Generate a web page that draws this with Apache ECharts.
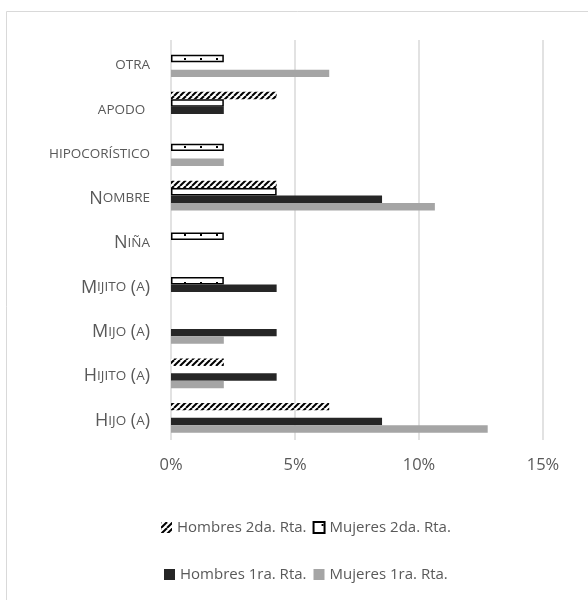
<!DOCTYPE html>
<html>
<head>
<meta charset="utf-8">
<script src="https://cdn.jsdelivr.net/npm/echarts@6/dist/echarts.min.js"></script>
<style>
  html, body { margin: 0; padding: 0; background: #fff; }
  #chart { width: 588px; height: 600px; }
</style>
</head>
<body>
<div id="chart"></div>
<script>
// Categories listed bottom to top (category axis on y runs upward)
const categories = ['Hijo (a)', 'Hijito (a)', 'Mijo (a)', 'Mijito (a)', 'Niña', 'Nombre', 'hipocorístico', 'apodo ', 'otra'];

// Percent of responses per category
const hombres2da = [6.38, 2.13, 0, 0, 0, 4.26, 0, 4.26, 0];
const mujeres2da = [0, 0, 0, 2.13, 2.13, 4.26, 2.13, 2.13, 2.13];
const hombres1ra = [8.51, 4.26, 4.26, 4.26, 0, 8.51, 0, 2.13, 0];
const mujeres1ra = [12.77, 2.13, 2.13, 0, 0, 10.64, 2.13, 0, 6.38];

const seriesNames = ['Hombres 2da. Rta.', 'Mujeres 2da. Rta.', 'Hombres 1ra. Rta.', 'Mujeres 1ra. Rta.'];
const xTicks = { min: 0, max: 15, interval: 5 };

const TEXT = '#595959';
const FONT = 'Open Sans';

// Diagonal hatch fill
function hatchPattern() {
  const c = document.createElement('canvas');
  c.width = 6; c.height = 6;
  const g = c.getContext('2d');
  g.fillStyle = '#fff';
  g.fillRect(0, 0, 6, 6);
  g.strokeStyle = '#000';
  g.lineWidth = 2;
  [0, 6, 12].forEach(function (k) {
    g.beginPath();
    g.moveTo(k - 6, 6);
    g.lineTo(k, 0);
    g.stroke();
  });
  return c;
}

// Sparse dot fill
function dotPattern() {
  const c = document.createElement('canvas');
  c.width = 16; c.height = 8;
  const g = c.getContext('2d');
  g.fillStyle = '#fff';
  g.fillRect(0, 0, 16, 8);
  g.fillStyle = '#000';
  g.fillRect(8, 2, 2, 2);
  return c;
}

// Small-caps rendering: lowercase letters become smaller capitals
function smallCaps(s) {
  let out = '';
  let cur = null, buf = '';
  for (const ch of s) {
    const isLower = ch !== ch.toUpperCase();
    const st = isLower ? 's' : 'b';
    const t = isLower ? ch.toUpperCase() : ch;
    if (st !== cur && buf) { out += '{' + cur + '|' + buf + '}'; buf = ''; }
    cur = st; buf += t;
  }
  if (buf) out += '{' + cur + '|' + buf + '}';
  return out;
}

function nz(arr) { return arr.map(function (v) { return v === 0 ? '-' : v; }); }

const chart = echarts.init(document.getElementById('chart'), null, { renderer: 'canvas' });

chart.setOption({
  animation: false,
  backgroundColor: '#fff',
  graphic: [{
    type: 'rect',
    shape: { x: 6.5, y: 11.5, width: 600, height: 600 },
    style: { fill: 'none', stroke: '#d9d9d9', lineWidth: 1 },
    silent: true
  }],
  grid: { left: 171, right: 45, top: 40, bottom: 160, containLabel: false },
  xAxis: {
    type: 'value',
    min: xTicks.min, max: xTicks.max, interval: xTicks.interval,
    axisLine: { show: false },
    axisTick: { show: false },
    splitLine: { lineStyle: { color: '#d9d9d9', width: 1.5 } },
    axisLabel: {
      formatter: '{value}%', color: TEXT, fontFamily: FONT, fontSize: 16.5, margin: 17
    }
  },
  yAxis: {
    type: 'category',
    data: categories,
    axisLine: { show: false },
    axisTick: { show: false },
    axisLabel: {
      margin: 21,
      padding: [6, 0, 0, 0],
      formatter: function (v) { return smallCaps(v); },
      rich: {
        b: { fontSize: 18, color: TEXT, fontFamily: FONT },
        s: { fontSize: 13.5, color: TEXT, fontFamily: FONT }
      }
    }
  },
  legend: [{
    data: [seriesNames[0], seriesNames[1]],
    left: 156, top: 515,
    icon: 'rect', itemWidth: 11, itemHeight: 11, itemGap: 6,
    textStyle: { color: TEXT, fontFamily: FONT, fontSize: 15 }
  }, {
    data: [seriesNames[2], seriesNames[3]],
    left: 159, top: 562,
    icon: 'rect', itemWidth: 11, itemHeight: 11, itemGap: 7,
    textStyle: { color: TEXT, fontFamily: FONT, fontSize: 15 }
  }],
  series: [{
    name: seriesNames[0], type: 'bar', data: nz(hombres2da),
    barGap: '0%', barCategoryGap: '33%',
    itemStyle: { color: { image: hatchPattern(), repeat: 'repeat' } }
  }, {
    name: seriesNames[1], type: 'bar', data: nz(mujeres2da),
    itemStyle: { color: { image: dotPattern(), repeat: 'repeat' }, borderColor: '#000', borderWidth: 1.5 }
  }, {
    name: seriesNames[2], type: 'bar', data: nz(hombres1ra),
    itemStyle: { color: '#262626' }
  }, {
    name: seriesNames[3], type: 'bar', data: nz(mujeres1ra),
    itemStyle: { color: '#a5a5a5' }
  }]
});
</script>
</body>
</html>
